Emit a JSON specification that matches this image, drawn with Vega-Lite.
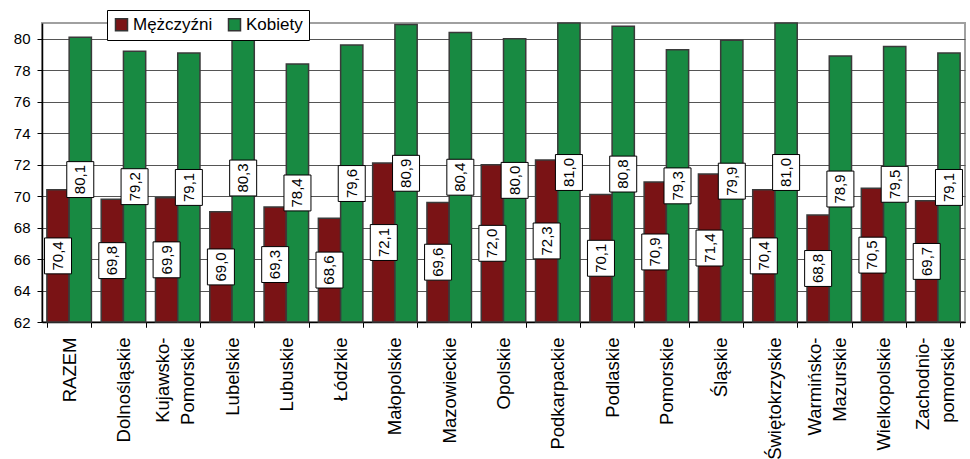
{
  "$schema": "https://vega.github.io/schema/vega-lite/v6.json",
  "width": 923,
  "height": 299,
  "autosize": {"type": "none"},
  "padding": {"left": 42, "top": 23, "right": 5, "bottom": 137},
  "background": "white",
  "config": {
    "font": "Liberation Sans",
    "locale": {"number": {"decimal": ",", "thousands": " ", "grouping": [3], "currency": ["", " zł"]}},
    "view": {"stroke": "#a0a0a0", "strokeWidth": 2}
  },
  "data": {
    "values": [
      {"region": "RAZEM", "sex": "Mężczyźni", "value": 70.4},
      {"region": "RAZEM", "sex": "Kobiety", "value": 80.1},
      {"region": "Dolnośląskie", "sex": "Mężczyźni", "value": 69.8},
      {"region": "Dolnośląskie", "sex": "Kobiety", "value": 79.2},
      {"region": "Kujawsko-Pomorskie", "sex": "Mężczyźni", "value": 69.9},
      {"region": "Kujawsko-Pomorskie", "sex": "Kobiety", "value": 79.1},
      {"region": "Lubelskie", "sex": "Mężczyźni", "value": 69.0},
      {"region": "Lubelskie", "sex": "Kobiety", "value": 80.3},
      {"region": "Lubuskie", "sex": "Mężczyźni", "value": 69.3},
      {"region": "Lubuskie", "sex": "Kobiety", "value": 78.4},
      {"region": "Łódzkie", "sex": "Mężczyźni", "value": 68.6},
      {"region": "Łódzkie", "sex": "Kobiety", "value": 79.6},
      {"region": "Małopolskie", "sex": "Mężczyźni", "value": 72.1},
      {"region": "Małopolskie", "sex": "Kobiety", "value": 80.9},
      {"region": "Mazowieckie", "sex": "Mężczyźni", "value": 69.6},
      {"region": "Mazowieckie", "sex": "Kobiety", "value": 80.4},
      {"region": "Opolskie", "sex": "Mężczyźni", "value": 72.0},
      {"region": "Opolskie", "sex": "Kobiety", "value": 80.0},
      {"region": "Podkarpackie", "sex": "Mężczyźni", "value": 72.3},
      {"region": "Podkarpackie", "sex": "Kobiety", "value": 81.0},
      {"region": "Podlaskie", "sex": "Mężczyźni", "value": 70.1},
      {"region": "Podlaskie", "sex": "Kobiety", "value": 80.8},
      {"region": "Pomorskie", "sex": "Mężczyźni", "value": 70.9},
      {"region": "Pomorskie", "sex": "Kobiety", "value": 79.3},
      {"region": "Śląskie", "sex": "Mężczyźni", "value": 71.4},
      {"region": "Śląskie", "sex": "Kobiety", "value": 79.9},
      {"region": "Świętokrzyskie", "sex": "Mężczyźni", "value": 70.4},
      {"region": "Świętokrzyskie", "sex": "Kobiety", "value": 81.0},
      {"region": "Warmińsko-Mazurskie", "sex": "Mężczyźni", "value": 68.8},
      {"region": "Warmińsko-Mazurskie", "sex": "Kobiety", "value": 78.9},
      {"region": "Wielkopolskie", "sex": "Mężczyźni", "value": 70.5},
      {"region": "Wielkopolskie", "sex": "Kobiety", "value": 79.5},
      {"region": "Zachodnio-pomorskie", "sex": "Mężczyźni", "value": 69.7},
      {"region": "Zachodnio-pomorskie", "sex": "Kobiety", "value": 79.1}
    ]
  },
  "layer": [
    {
      "mark": {"type": "bar", "stroke": "#3a3a3a", "strokeWidth": 1.5},
      "encoding": {
        "x": {
          "field": "region", "type": "nominal", "sort": null,
          "scale": {"paddingInner": 0.18, "paddingOuter": 0.09},
          "axis": {
            "orient": "bottom", "title": null, "labelAngle": -90, "labelFontSize": 18.5, "labelColor": "black",
            "labelPadding": 10, "tickBand": "extent", "tickSize": 5, "tickColor": "black",
            "domainColor": "black", "domainWidth": 1.5, "labelLimit": 200,
            "labelExpr": "indexof(datum.label, '-') > 0 ? '' : datum.label"
          }
        },
        "xOffset": {"field": "sex", "type": "nominal", "sort": ["Mężczyźni", "Kobiety"]},
        "y": {
          "field": "value", "type": "quantitative",
          "scale": {"domain": [62, 81], "zero": false, "nice": false},
          "axis": {
            "title": null, "values": [62, 64, 66, 68, 70, 72, 74, 76, 78, 80], "format": "d",
            "labelFontSize": 15, "labelColor": "black", "labelPadding": 7, "tickSize": 5,
            "tickColor": "black", "domainColor": "black", "domainWidth": 1.5, "gridColor": "#555555", "gridWidth": 1
          }
        },
        "y2": {"datum": 62},
        "color": {
          "field": "sex", "type": "nominal",
          "scale": {"domain": ["Mężczyźni", "Kobiety"], "range": ["#7a1315", "#188a42"]},
          "legend": {
            "title": null, "orient": "none", "legendX": 65, "legendY": -13, "direction": "horizontal",
            "fillColor": "white", "strokeColor": "black", "padding": 6, "labelFontSize": 17,
            "labelColor": "black", "symbolType": "square", "symbolSize": 144,
            "symbolStrokeColor": "#333333", "symbolStrokeWidth": 1.5, "columnPadding": 12,
            "labelOffset": 3, "symbolOpacity": 1
          }
        }
      }
    },
    {
      "mark": {"type": "point", "shape": "M-1,-1.33H1V1.33H-1Z", "size": 729, "filled": true, "fill": "white", "stroke": "black", "strokeWidth": 1, "opacity": 1},
      "encoding": {
        "x": {
          "field": "region", "type": "nominal", "sort": null,
          "scale": {"paddingInner": 0.18, "paddingOuter": 0.09},
          "axis": {
            "orient": "bottom", "title": null, "labelAngle": -90, "labelFontSize": 18.5, "labelColor": "black",
            "labelPadding": 10, "tickBand": "extent", "tickSize": 5, "tickColor": "black",
            "domain": false, "grid": false, "labelLimit": 200, "labelOffset": -15, "labelLineHeight": 25,
            "labelExpr": "indexof(datum.label, '-') > 0 ? [substring(datum.label, 0, indexof(datum.label, '-') + 1), substring(datum.label, indexof(datum.label, '-') + 1)] : ''"
          }
        },
        "xOffset": {"field": "sex", "type": "nominal", "sort": ["Mężczyźni", "Kobiety"]},
        "y": {"field": "value", "type": "quantitative", "scale": {"domain": [62, 100], "zero": false, "nice": false}, "axis": null}
      }
    },
    {
      "mark": {"type": "text", "angle": 270, "fontSize": 15, "color": "black"},
      "encoding": {
        "x": {"field": "region", "type": "nominal", "sort": null, "scale": {"paddingInner": 0.18, "paddingOuter": 0.09}, "axis": null},
        "xOffset": {"field": "sex", "type": "nominal", "sort": ["Mężczyźni", "Kobiety"]},
        "y": {"field": "value", "type": "quantitative", "scale": {"domain": [62, 100], "zero": false, "nice": false}, "axis": null},
        "text": {"field": "value", "type": "quantitative", "format": ".1f"}
      }
    }
  ],
  "resolve": {"scale": {"y": "independent", "x": "independent"}}
}
